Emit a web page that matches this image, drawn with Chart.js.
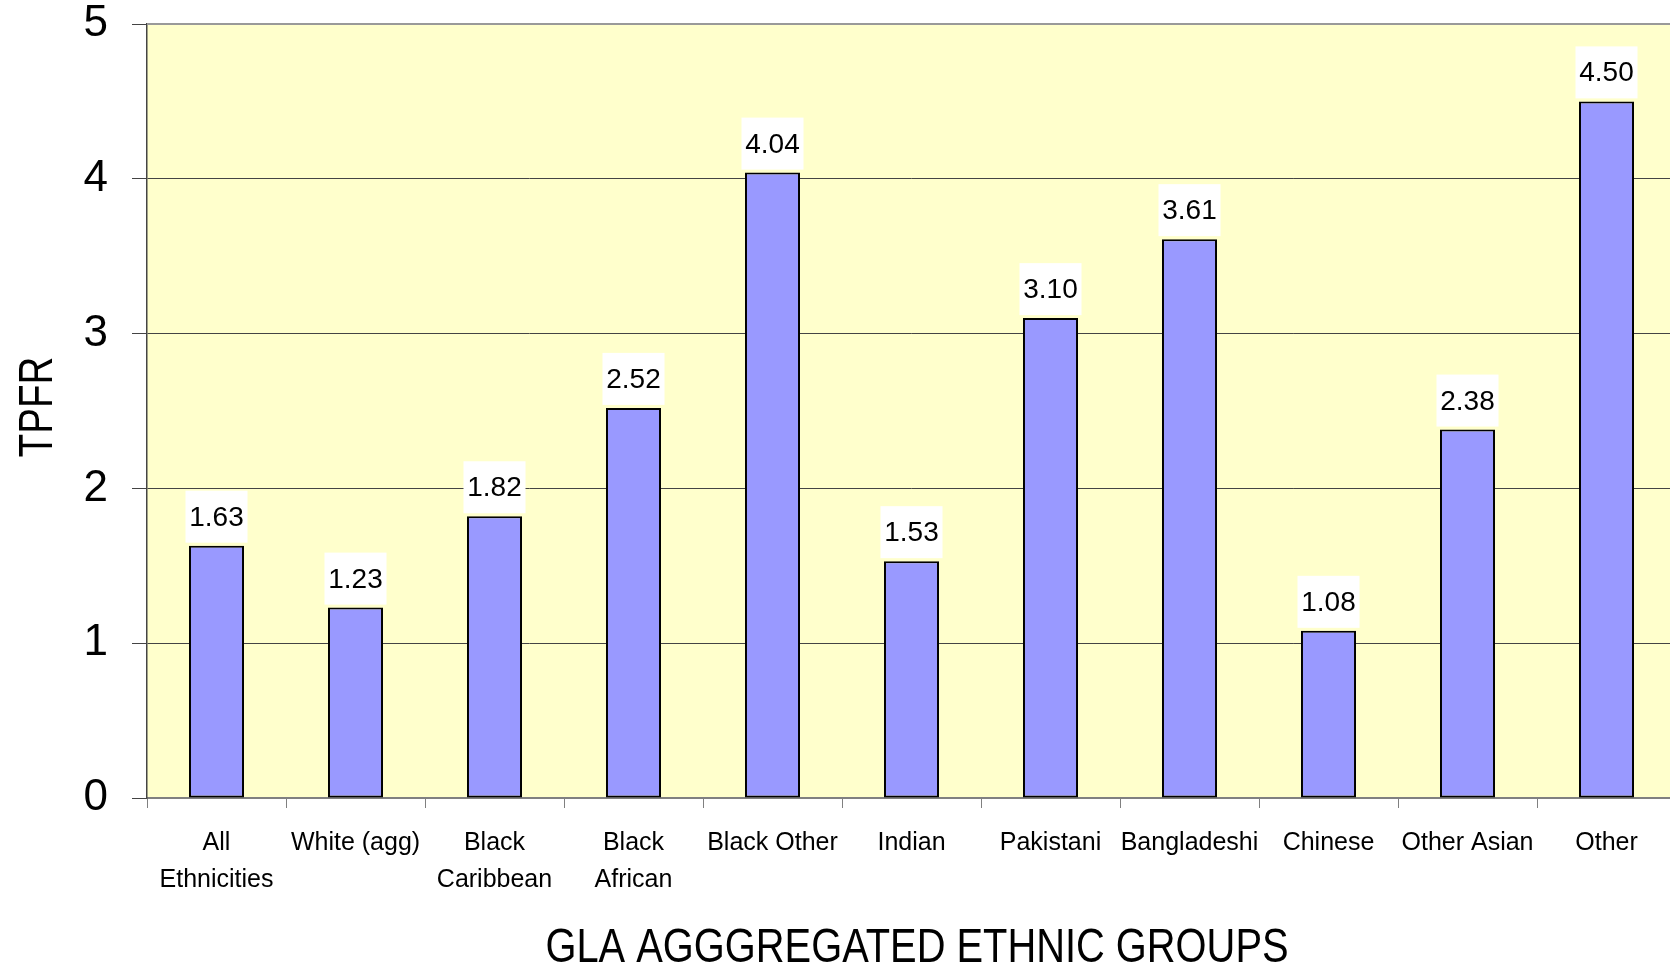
<!DOCTYPE html>
<html>
<head>
<meta charset="utf-8">
<script src="https://cdn.jsdelivr.net/npm/chart.js@4.4.1/dist/chart.umd.min.js"></script>
<style>
  html, body { margin: 0; padding: 0; background: #ffffff; overflow: hidden; }
  #wrap { width: 1670px; height: 967px; overflow: hidden; position: relative; }
  canvas { display: block; }
</style>
</head>
<body>
<div id="wrap"><canvas id="c" width="1680" height="967"></canvas></div>
<script>
const categories = [
  ["All", "Ethnicities"],
  "White (agg)",
  ["Black", "Caribbean"],
  ["Black", "African"],
  "Black Other",
  "Indian",
  "Pakistani",
  "Bangladeshi",
  "Chinese",
  "Other Asian",
  "Other"
];
const tpfrValues = [1.63, 1.23, 1.82, 2.52, 4.04, 1.53, 3.10, 3.61, 1.08, 2.38, 4.50];
const yTickValues = [0, 1, 2, 3, 4, 5];
const xAxisTitle = "GLA AGGGREGATED ETHNIC GROUPS";
const yAxisTitle = "TPFR";

const FONT = '"Liberation Sans", Arial, Helvetica, sans-serif';

const bgPlugin = {
  id: 'plotBg',
  beforeDraw(chart) {
    const { ctx, chartArea: a } = chart;
    ctx.save();
    ctx.fillStyle = '#FFFFCC';
    ctx.fillRect(a.left, a.top, a.right - a.left, a.bottom - a.top);
    ctx.restore();
  },
  afterDraw(chart) {
    const { ctx, chartArea: a } = chart;
    ctx.save();
    // top border of plot area
    ctx.strokeStyle = '#999999';
    ctx.lineWidth = 2;
    ctx.beginPath();
    ctx.moveTo(a.left, a.top);
    ctx.lineTo(a.right, a.top);
    ctx.stroke();
    // axis titles (condensed)
    ctx.fillStyle = '#000';
    ctx.font = '48px ' + FONT;
    ctx.textAlign = 'center';
    ctx.textBaseline = 'alphabetic';
    ctx.save();
    ctx.translate(917, 962);
    ctx.scale(0.83, 1);
    ctx.fillText(xAxisTitle, 0, 0);
    ctx.restore();
    ctx.save();
    ctx.translate(52, 407);
    ctx.rotate(-Math.PI / 2);
    ctx.scale(0.8, 1);
    ctx.fillText(yAxisTitle, 0, 0);
    ctx.restore();
    ctx.restore();
  }
};

const labelPlugin = {
  id: 'valueLabels',
  afterDatasetsDraw(chart) {
    const { ctx } = chart;
    const meta = chart.getDatasetMeta(0);
    const data = chart.data.datasets[0].data;
    ctx.save();
    meta.data.forEach((bar, i) => {
      const x = bar.x, top = bar.y;
      const boxW = 62, boxH = 52, gap = 3;
      ctx.fillStyle = '#ffffff';
      ctx.fillRect(x - boxW / 2, top - gap - boxH, boxW, boxH);
      ctx.fillStyle = '#000';
      ctx.font = '28px ' + FONT;
      ctx.textAlign = 'center';
      ctx.textBaseline = 'alphabetic';
      ctx.fillText(Number(data[i]).toFixed(2), x, top - 20);
    });
    ctx.restore();
  }
};

new Chart(document.getElementById('c'), {
  type: 'bar',
  data: {
    labels: categories,
    datasets: [{
      label: yAxisTitle,
      data: tpfrValues,
      backgroundColor: '#9999FF',
      borderColor: '#000000',
      borderWidth: 2,
      borderSkipped: false,
      categoryPercentage: 1.0,
      barPercentage: 0.396
    }]
  },
  options: {
    responsive: false,
    animation: false,
    devicePixelRatio: 1,
    layout: { padding: { top: 24, right: 4, left: 0, bottom: 0 } },
    plugins: {
      legend: { display: false },
      tooltip: { enabled: false },
      title: { display: false }
    },
    scales: {
      x: {
        offset: true,
        grid: {
          offset: true,
          drawOnChartArea: false,
          drawTicks: true,
          tickLength: 10,
          color: '#808080',
          lineWidth: 1
        },
        border: { display: true, color: '#808080', width: 2 },
        ticks: {
          autoSkip: false,
          maxRotation: 0,
          minRotation: 0,
          padding: 17,
          color: '#000',
          font: { family: FONT, size: 25, lineHeight: '37px' }
        },
        afterFit(scale) { scale.height = 169; scale.paddingLeft = 0; scale.paddingRight = 0; }
      },
      y: {
        min: 0,
        max: 5,
        afterBuildTicks(scale) { scale.ticks = yTickValues.map(v => ({ value: v })); },
        grid: {
          color: '#444444',
          lineWidth: 1,
          drawTicks: true,
          tickLength: 15
        },
        border: { display: true, color: '#444444', width: 1.5 },
        ticks: {
          padding: 24,
          color: '#000',
          font: { family: FONT, size: 44, lineHeight: '48px' }
        },
        afterFit(scale) { scale.width = 147; scale.paddingTop = 0; scale.paddingBottom = 0; }
      }
    }
  },
  plugins: [bgPlugin, labelPlugin]
});
</script>
</body>
</html>
